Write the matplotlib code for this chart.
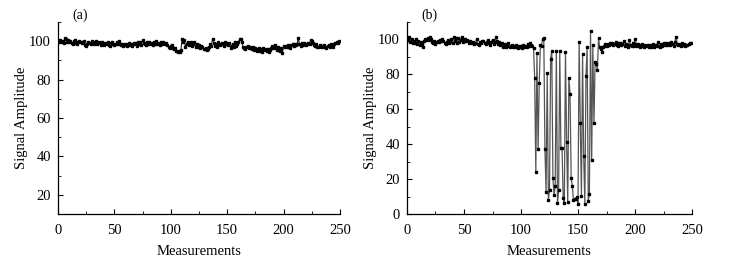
import matplotlib
matplotlib.use("Agg")
import matplotlib.pyplot as plt
import numpy as np
from matplotlib.ticker import MultipleLocator

plt.rcParams['font.family'] = ['Liberation Serif', 'DejaVu Serif']

signal_a = [
    100.2, 99.5, 100.8, 99.6, 100.1, 99.2, 101.6, 100.9, 99.8, 100.4,
    99.7, 100.3, 99.1, 98.8, 99.9, 100.5, 99.3, 98.6, 99.8, 100.2,
    99.4, 98.9, 99.7, 100.1, 98.2, 97.5, 98.8, 99.6, 99.1, 98.4,
    100.3, 99.8, 98.6, 99.2, 99.9, 98.7, 99.4, 98.9, 98.1, 99.5,
    98.8, 97.9, 99.3, 98.6, 99.7, 98.2, 97.6, 98.9, 99.4, 98.3,
    97.8, 98.7, 99.5, 98.4, 99.9, 98.6, 97.9, 98.3, 97.4, 98.8,
    98.1, 97.5, 98.4, 99.1, 97.8, 98.5, 97.6, 99.2, 98.3, 98.9,
    97.7, 99.4, 98.5, 99.8, 98.2, 100.6, 99.3, 98.6, 97.9, 99.5,
    98.4, 99.7, 98.8, 99.2, 98.1, 99.6, 98.7, 99.9, 98.5, 99.1,
    98.2, 99.4, 98.6, 99.8, 99.1, 98.3, 98.9, 97.8, 97.2, 96.5,
    97.4, 98.1, 96.6, 95.8, 96.4, 95.1, 94.6, 94.8, 94.5, 95.3,
    101.2, 99.8, 100.5, 96.9, 98.7, 99.6, 97.8, 98.9, 99.4, 97.5,
    98.8, 99.7, 97.2, 98.4, 96.8, 97.9, 96.5, 97.3, 96.9, 96.1,
    95.7, 96.4, 95.3, 95.9, 96.8, 98.6, 97.4, 101.4, 99.2, 97.6,
    98.3, 97.1, 99.5, 98.6, 97.9, 99.1, 98.4, 97.5, 99.8, 98.7,
    99.3, 97.8, 98.9, 96.7, 97.6, 98.8, 96.9, 99.4, 97.3, 98.5,
    99.6, 100.9, 101.3, 99.8, 97.1, 96.4, 95.8, 96.9, 97.3, 96.2,
    97.1, 96.5, 95.7, 96.8, 95.4, 96.2, 94.9, 95.8, 96.6, 95.1,
    95.9, 94.6, 96.3, 95.2, 95.8, 94.8, 96.1, 94.2, 95.5, 96.7,
    97.4, 96.2, 97.8, 96.5, 95.3, 96.9, 95.6, 94.7, 96.2, 94.1,
    97.3, 96.8, 97.5, 96.9, 98.1, 97.2, 96.6, 97.8, 98.3, 97.4,
    98.6, 97.9, 98.4, 101.6, 98.8, 97.5, 98.9, 98.2, 99.1, 98.5,
    97.8, 98.7, 99.3, 98.4, 100.7, 100.3, 98.9, 98.1, 97.6, 98.4,
    97.2, 96.8, 97.9, 97.3, 96.9, 97.6, 98.2, 97.1, 96.7, 97.5,
    97.9, 97.2, 98.3, 97.6, 97.1, 98.5, 98.9, 99.6, 99.2, 100.1,
]

signal_b = [
    100.8, 99.6, 101.2, 98.7, 100.1, 97.9, 99.4, 98.2, 100.5, 97.3,
    99.1, 96.8, 98.5, 97.2, 95.4, 98.9, 100.2, 99.7, 100.6, 99.9,
    101.3, 100.4, 98.6, 97.8, 99.1, 97.5, 98.3, 99.2, 98.7, 99.6,
    98.9, 100.1, 99.4, 98.2, 97.6, 98.8, 99.5, 97.9, 98.4, 100.3,
    98.1, 101.4, 99.2, 100.9, 97.8, 101.1, 98.6, 99.9, 101.6, 98.3,
    99.7, 100.5, 98.9, 99.8, 98.2, 99.4, 98.7, 97.9, 98.6, 97.4,
    98.1, 100.2, 97.5, 96.8, 98.3, 97.7, 98.9, 99.4, 98.2, 97.6,
    98.8, 99.5, 97.9, 96.9, 98.4, 99.8, 97.3, 98.6, 101.2, 99.1,
    97.4, 98.7, 96.6, 97.9, 95.8, 96.7, 97.2, 95.9, 96.5, 97.8,
    95.6, 96.3, 97.1, 95.4, 96.2, 95.8, 96.9, 95.3, 96.4, 95.7,
    96.1, 95.2, 96.8, 95.5, 96.3, 95.9, 97.6, 96.2, 98.1, 96.7,
    96.5, 95.0, 78.0, 24.0, 92.0, 37.0, 75.0, 97.0, 96.5, 100.5,
    101.0, 37.0, 12.6, 80.6, 8.0, 13.5, 89.0, 93.5, 20.6, 10.7,
    16.0, 93.5, 6.3, 13.5, 93.5, 37.7, 38.0, 9.0, 6.3, 93.0,
    41.5, 6.7, 77.7, 69.0, 20.6, 16.0, 8.0, 8.5, 8.8, 10.0,
    6.0, 98.7, 52.0, 10.5, 91.6, 33.0, 6.0, 79.0, 95.4, 7.6,
    11.4, 105.0, 30.7, 96.8, 52.0, 86.9, 86.0, 82.5, 100.6, 95.8,
    94.5, 93.0, 95.6, 96.4, 97.2, 96.1, 97.5, 96.8, 97.9, 97.3,
    98.1, 96.9, 97.6, 98.3, 97.1, 96.5, 97.8, 98.2, 96.7, 97.4,
    98.9, 96.2, 97.5, 96.8, 95.9, 99.6, 97.1, 96.4, 97.8, 96.3,
    100.5, 97.2, 96.1, 97.6, 95.8, 96.9, 97.4, 96.2, 95.7, 96.8,
    96.3, 97.1, 95.9, 96.6, 95.4, 96.2, 97.3, 95.8, 96.7, 96.1,
    98.4, 96.5, 95.9, 97.2, 96.4, 97.8, 96.9, 98.1, 96.6, 97.5,
    97.9, 96.8, 98.4, 97.2, 96.5, 98.8, 101.3, 97.6, 96.9, 97.4,
    96.2, 97.8, 96.7, 97.3, 96.5, 97.1, 96.8, 97.4, 97.9, 98.2,
]

x_a = np.arange(len(signal_a))
x_b = np.arange(len(signal_b))

fig = plt.figure(figsize=(7.38, 2.69), dpi=100)
ax1 = fig.add_axes([58/738, 55/269, 282/738, 192/269])
ax2 = fig.add_axes([407/738, 55/269, 285/738, 192/269])

ax1.plot(x_a, signal_a, color='#222222', lw=0.8, marker='s', ms=2.0,
         mfc='black', mec='black')
ax2.plot(x_b, signal_b, color='#555555', lw=0.9, marker='s', ms=2.0,
         mfc='black', mec='black')

ax1.set_xlim(0, 250)
ax1.set_ylim(10, 110)
ax1.set_yticks([20, 40, 60, 80, 100])
ax1.yaxis.set_minor_locator(MultipleLocator(10))

ax2.set_xlim(0, 250)
ax2.set_ylim(0, 110)
ax2.set_yticks([0, 20, 40, 60, 80, 100])
ax2.yaxis.set_minor_locator(MultipleLocator(10))

for ax, lab in ((ax1, '(a)'), (ax2, '(b)')):
    ax.xaxis.set_major_locator(MultipleLocator(50))
    ax.xaxis.set_minor_locator(MultipleLocator(25))
    ax.spines['top'].set_visible(False)
    ax.spines['right'].set_visible(False)
    ax.spines['left'].set_linewidth(0.9)
    ax.spines['bottom'].set_linewidth(0.9)
    ax.tick_params(which='both', direction='in', labelsize=10.5)
    ax.tick_params(axis='x', which='both', pad=7)
    ax.tick_params(axis='y', which='both', pad=5)
    ax.tick_params(which='major', length=3.5)
    ax.tick_params(which='minor', length=2)
    ax.set_xlabel('Measurements', fontsize=10.5, labelpad=6)
    ax.set_ylabel('Signal Amplitude', fontsize=10.5, labelpad=1)
    ax.text(0.05, 1.0, lab, transform=ax.transAxes, fontsize=10,
            ha='left', va='bottom')

fig.savefig('out.png', dpi=100)
